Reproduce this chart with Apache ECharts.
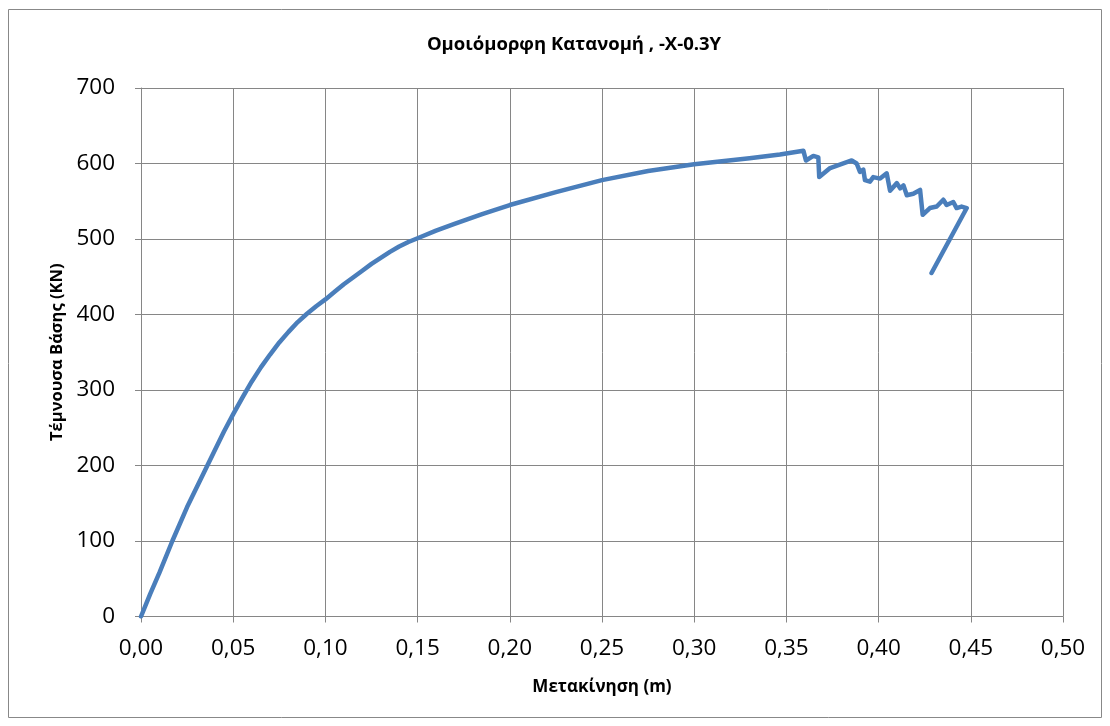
<!DOCTYPE html>
<html><head><meta charset="utf-8">
<script src="https://cdn.jsdelivr.net/npm/echarts@6/dist/echarts.min.js"></script>
<style>html,body{margin:0;padding:0;background:#fff}#c{width:1110px;height:726px}</style>
</head><body><div id="c"></div>
<script>
const titleText = 'Ομοιόμορφη Κατανομή , -X-0.3Y';
const xName = 'Μετακίνηση (m)';
const yName = 'Τέμνουσα Βάσης (KN)';
const xTicks = [0, 0.5, 0.05];
const yTicks = [0, 700, 100];
const dispX = [0, 0.005, 0.01, 0.017, 0.025, 0.035, 0.045, 0.05, 0.055, 0.06, 0.065, 0.07, 0.075, 0.08, 0.085, 0.09, 0.095, 0.10, 0.105, 0.11, 0.115, 0.12, 0.125, 0.13, 0.135, 0.14, 0.145, 0.15, 0.16, 0.17, 0.185, 0.20, 0.225, 0.25, 0.275, 0.30, 0.33, 0.3465,
  0.3592, 0.3606, 0.3646, 0.3673, 0.3678, 0.3737, 0.3854, 0.3881, 0.3899, 0.3917, 0.3926, 0.3953, 0.3971, 0.4008, 0.4044, 0.4062, 0.4099, 0.4117, 0.4135, 0.4153, 0.4188, 0.4225, 0.4239, 0.4278, 0.4315, 0.4351, 0.4369, 0.4405, 0.4423, 0.4450, 0.4478, 0.4487, 0.4287];
const shear = [0, 30, 58, 100, 145, 195, 245, 268, 290, 311, 330, 347, 363, 377, 390, 401, 411, 420, 430, 440, 449, 458, 467, 475, 483, 490, 496, 501, 511, 520, 533, 545, 562, 578, 590, 599, 607, 612,
  617, 604, 610, 608, 582, 594, 604, 600, 589, 592, 578, 576, 582, 580, 587, 564, 574, 567, 571, 558, 560, 565, 532, 541, 543, 552, 545, 549, 541, 543, 541, 542, 455];
const pts = dispX.map((x, i) => [x, shear[i]]);
const font = 'Open Sans';
const chart = echarts.init(document.getElementById('c'));
chart.setOption({
  animation: false,
  title: { text: titleText, left: 569, top: 30, textAlign: 'center',
    textStyle: { fontFamily: font, fontSize: 18.5, fontWeight: 'bold', color: '#000' } },
  graphic: [{ type: 'rect', shape: { x: 8.5, y: 9.5, width: 1093, height: 708 },
    style: { fill: 'none', stroke: '#888', lineWidth: 1 }, silent: true, z: -1 }],
  grid: { left: 141, right: 47, top: 88, bottom: 109.5, containLabel: false },
  xAxis: { type: 'value', min: xTicks[0], max: xTicks[1], interval: xTicks[2],
    name: xName, nameLocation: 'middle', nameGap: 62,
    nameTextStyle: { fontFamily: font, fontSize: 17, fontWeight: 'bold', color: '#000' },
    axisLine: { show: true, lineStyle: { color: '#868686', width: 1 } },
    axisTick: { show: true, length: 6, lineStyle: { color: '#868686' } },
    axisLabel: { fontFamily: font, fontSize: 22.5, color: '#000', margin: 21,
      formatter: v => v.toFixed(2).replace('.', ',') },
    splitLine: { show: true, lineStyle: { color: '#868686', width: 1 } } },
  yAxis: { type: 'value', min: yTicks[0], max: yTicks[1], interval: yTicks[2],
    name: yName, nameLocation: 'middle', nameGap: 74, nameRotate: 90,
    nameTextStyle: { fontFamily: font, fontSize: 16.5, fontWeight: 'bold', color: '#000' },
    axisLine: { show: true, lineStyle: { color: '#868686', width: 1 } },
    axisTick: { show: true, length: 6, lineStyle: { color: '#868686' } },
    axisLabel: { fontFamily: font, fontSize: 22.5, color: '#000', margin: 26 },
    splitLine: { show: true, lineStyle: { color: '#868686', width: 1 } } },
  series: [{ type: 'line', data: pts, showSymbol: false, smooth: false,
    lineStyle: { color: '#4a7ebb', width: 4.5, cap: 'round', join: 'round' } }]
});
</script></body></html>
